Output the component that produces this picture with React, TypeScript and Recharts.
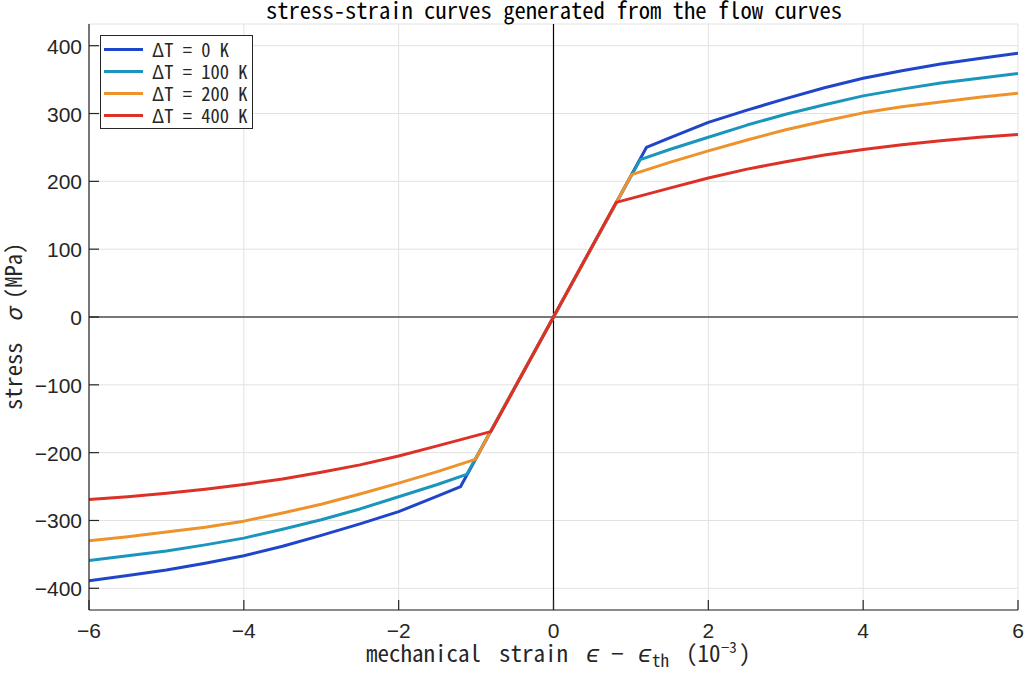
import { LineChart, Line, XAxis, YAxis, CartesianGrid, ReferenceLine, Legend } from "recharts";

// strain in 1e-3, stress in MPa
const strain0 = [-6, -5.5, -5, -4.5, -4, -3.5, -3, -2.5, -2, -1.5, -1.2, 0, 1.2, 1.5, 2, 2.5, 3, 3.5, 4, 4.5, 5, 5.5, 6];
const stress0 = [-389, -381, -373, -363, -352, -338, -322, -305, -287, -264, -250, 0, 250, 264, 287, 305, 322, 338, 352, 363, 373, 381, 389];

const strain100 = [-6, -5.5, -5, -4.5, -4, -3.5, -3, -2.5, -2, -1.5, -1.12, 0, 1.12, 1.5, 2, 2.5, 3, 3.5, 4, 4.5, 5, 5.5, 6];
const stress100 = [-359, -352, -345, -336, -326, -313, -299, -283, -265, -247, -232, 0, 232, 247, 265, 283, 299, 313, 326, 336, 345, 352, 359];

const strain200 = [-6, -5.5, -5, -4.5, -4, -3.5, -3, -2.5, -2, -1.5, -1.01, 0, 1.01, 1.5, 2, 2.5, 3, 3.5, 4, 4.5, 5, 5.5, 6];
const stress200 = [-330, -324, -317, -310, -301, -289, -276, -261, -245, -228, -210, 0, 210, 228, 245, 261, 276, 289, 301, 310, 317, 324, 330];

const strain400 = [-6, -5.5, -5, -4.5, -4, -3.5, -3, -2.5, -2, -1.5, -0.81, 0, 0.81, 1.5, 2, 2.5, 3, 3.5, 4, 4.5, 5, 5.5, 6];
const stress400 = [-269, -265, -260, -254, -247, -239, -229, -218, -205, -190, -169, 0, 169, 190, 205, 218, 229, 239, 247, 254, 260, 265, 269];

const seriesNames = ["ΔT = 0 K", "ΔT = 100 K", "ΔT = 200 K", "ΔT = 400 K"];
const xTicks = [-6, -4, -2, 0, 2, 4, 6];
const yTicks = [-400, -300, -200, -100, 0, 100, 200, 300, 400];

const colors = ["#1f45c8", "#1a96bd", "#ee922c", "#dd3127"];
const font = "'Noto Sans Mono CJK JP', 'Noto Sans CJK JP', 'Liberation Mono', monospace";
const tickFont = "'Liberation Sans', Arial, sans-serif";
const axisColor = "#262626";

const toRows = (xs: number[], ys: number[]) => xs.map((x, i) => ({ strain: x, stress: ys[i] }));
const series = [
  toRows(strain0, stress0),
  toRows(strain100, stress100),
  toRows(strain200, stress200),
  toRows(strain400, stress400),
];

const fmt = (v: number) => String(v).replace("-", "\u2212");

const BottomTick = (props: any) => {
  const { x, y, payload } = props;
  return (
    <g>
      <line x1={x} y1={y} x2={x} y2={y - 10} stroke={axisColor} strokeWidth={1.2} />
      <text x={x} y={y + 28} textAnchor="middle" fontSize={21} fill={axisColor} fontFamily={tickFont}>
        {fmt(payload.value)}
      </text>
    </g>
  );
};

const TopTick = (props: any) => {
  const { x, y } = props;
  return <line x1={x} y1={y} x2={x} y2={y + 10} stroke={axisColor} strokeWidth={1.2} />;
};

const LeftTick = (props: any) => {
  const { x, y, payload } = props;
  return (
    <g>
      <line x1={x} y1={y} x2={x + 10} y2={y} stroke={axisColor} strokeWidth={1.2} />
      <text x={x - 7} y={y + 8} textAnchor="end" fontSize={21} fill={axisColor} fontFamily={tickFont}>
        {fmt(payload.value)}
      </text>
    </g>
  );
};

const RightTick = (props: any) => {
  const { x, y } = props;
  return <line x1={x} y1={y} x2={x - 10} y2={y} stroke={axisColor} strokeWidth={1.2} />;
};

const LegendBox = (props: any) => {
  const { payload } = props;
  return (
    <div
      style={{
        border: `1.2px solid ${axisColor}`,
        background: "#fff",
        padding: "2px 3px 2px 3px",
        fontFamily: font,
        color: axisColor,
        boxSizing: "border-box",
        width: 153,
      }}
    >
      {(payload || []).map((p: any) => (
        <div key={p.value} style={{ display: "flex", alignItems: "center", height: 22 }}>
          <span style={{ display: "inline-block", width: 39, height: 3, background: p.color, marginRight: 9 }} />
          <span style={{ whiteSpace: "pre", fontSize: 18.5 }}>{p.value}</span>
        </div>
      ))}
    </div>
  );
};

export default function App() {
  return (
    <div style={{ width: 1024, height: 677, background: "#fff", position: "relative" }}>
      <style>{"body{margin:0}"}</style>
      <LineChart width={1024} height={677} margin={{ top: 24, right: 6, bottom: 0, left: 0 }}>
        <CartesianGrid stroke="#e2e2e2" strokeWidth={1} />
        <XAxis
          type="number"
          dataKey="strain"
          domain={[-6, 6]}
          ticks={xTicks}
          allowDataOverflow
          stroke={axisColor}
          strokeWidth={1.2}
          tickLine={false}
          tickSize={0}
          tickMargin={0}
          tick={<BottomTick />}
          height={67}
        />
        <XAxis
          xAxisId="top"
          orientation="top"
          type="number"
          dataKey="strain"
          domain={[-6, 6]}
          ticks={xTicks}
          allowDataOverflow
          stroke={axisColor}
          strokeWidth={1.2}
          tickLine={false}
          tickSize={0}
          tickMargin={0}
          tick={<TopTick />}
          height={0}
        />
        <YAxis
          type="number"
          domain={[-432, 432]}
          ticks={yTicks}
          allowDataOverflow
          stroke={axisColor}
          strokeWidth={1.2}
          tickLine={false}
          tickSize={0}
          tickMargin={0}
          tick={<LeftTick />}
          width={89}
        />
        <YAxis
          yAxisId="right"
          orientation="right"
          type="number"
          domain={[-432, 432]}
          ticks={yTicks}
          allowDataOverflow
          stroke={axisColor}
          strokeWidth={1.2}
          tickLine={false}
          tickSize={0}
          tickMargin={0}
          tick={<RightTick />}
          width={0}
        />
        <ReferenceLine x={0} stroke="#000" strokeWidth={1.2} />
        <ReferenceLine y={0} stroke="#000" strokeWidth={1.2} />
        {series.map((rows, i) => (
          <Line
            key={seriesNames[i]}
            data={rows}
            dataKey="stress"
            name={seriesNames[i]}
            type="linear"
            stroke={colors[i]}
            strokeWidth={3}
            strokeLinejoin="round"
            dot={false}
            activeDot={false}
            isAnimationActive={false}
          />
        ))}
        <Legend
          content={<LegendBox />}
          layout="vertical"
          verticalAlign="middle"
          align="center"
          wrapperStyle={{ top: 35, left: 100, width: 153 }}
        />
        <text x={554} y={18.5} textAnchor="middle" fontSize={22.6} fill="#000" fontFamily={font}>
          stress-strain curves generated from the flow curves
        </text>
        <text
          transform="translate(22, 0) rotate(-90)"
          fontSize={22.5}
          fill={axisColor}
          fontFamily={font}
        >
          <tspan x={-410} y={0}>stress</tspan>
          <tspan x={-322} y={0} fontStyle="italic">σ</tspan>
          <tspan x={-299} y={0}>(MPa)</tspan>
        </text>
        <text fontSize={23} fill={axisColor} fontFamily={font}>
          <tspan x={366} y={662}>mechanical</tspan>
          <tspan x={499} y={662}>strain</tspan>
          <tspan x={586} y={662} fontStyle="italic">ϵ</tspan>
          <tspan x={611} y={662}>−</tspan>
          <tspan x={638} y={662} fontStyle="italic">ϵ</tspan>
          <tspan x={652} y={667} fontSize={17}>th</tspan>
          <tspan x={686} y={662}>(10</tspan>
          <tspan x={721} y={653} fontSize={15}>−3</tspan>
          <tspan x={739} y={662}>)</tspan>
        </text>
      </LineChart>
    </div>
  );
}
